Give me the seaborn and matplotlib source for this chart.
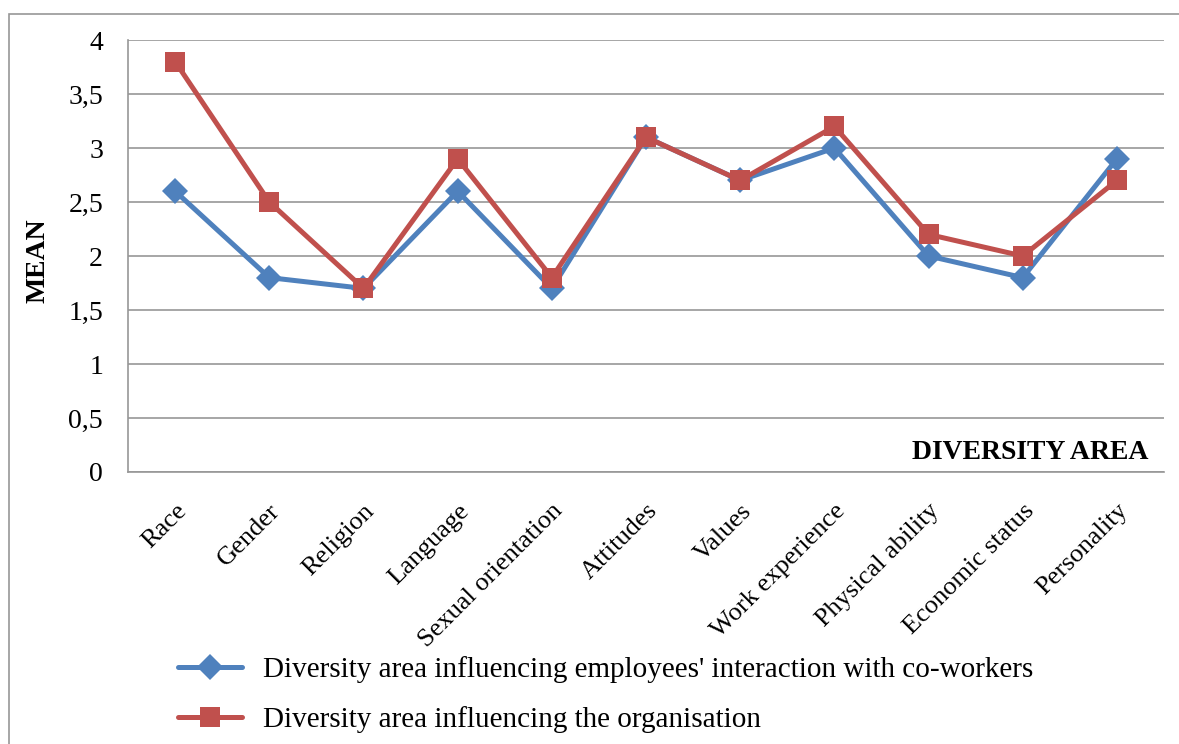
import matplotlib
matplotlib.use("Agg")
import matplotlib.pyplot as plt
import matplotlib.patches as patches
from matplotlib.ticker import MultipleLocator, FixedLocator
import seaborn as sns
import pandas as pd

areas = ["Race", "Gender", "Religion", "Language", "Sexual orientation", "Attitudes",
         "Values", "Work experience", "Physical ability", "Economic status", "Personality"]
coworkers = [2.6, 1.8, 1.7, 2.6, 1.7, 3.1, 2.7, 3.0, 2.0, 1.8, 2.9]
organisation = [3.8, 2.5, 1.7, 2.9, 1.8, 3.1, 2.7, 3.2, 2.2, 2.0, 2.7]
series_names = ["Diversity area influencing employees' interaction with co-workers",
                "Diversity area influencing the organisation"]

sns.set_style("white")
plt.rcParams["font.family"] = ["Liberation Serif", "DejaVu Serif"]
plt.rcParams["text.color"] = "black"
plt.rcParams["xtick.color"] = "black"
plt.rcParams["ytick.color"] = "black"

grid_gray = "#979797"

fig = plt.figure(figsize=(11.79, 7.44), dpi=100)
ax = fig.add_axes([0.1086, 0.3656, 0.8787, 0.5806])

df1 = pd.DataFrame({"area": areas, "mean": coworkers})
df2 = pd.DataFrame({"area": areas, "mean": organisation})
sns.lineplot(data=df1, x="area", y="mean", ax=ax, color="#4F81BD", linewidth=3.6,
             marker="D", markersize=13, markeredgewidth=0, sort=False, label=series_names[0])
sns.lineplot(data=df2, x="area", y="mean", ax=ax, color="#C0504D", linewidth=3.6,
             marker="s", markersize=14.5, markeredgewidth=0, sort=False, label=series_names[1])

ax.set_xlim(-0.5, len(areas) - 0.5)
ax.set_ylim(0, 4)
ax.yaxis.set_major_locator(MultipleLocator(0.5))
ax.set_yticklabels([f"{v:g}".replace(".", ",") for v in ax.get_yticks()], fontsize=20)
ax.yaxis.grid(True, color=grid_gray, linewidth=1.2)
ax.set_axisbelow(True)

for s in ["top", "right"]:
    ax.spines[s].set_visible(False)
for s in ["left", "bottom"]:
    ax.spines[s].set_color(grid_gray)
    ax.spines[s].set_linewidth(1.2)

ax.tick_params(axis="y", length=8, color=grid_gray, labelcolor="black", width=1.2, pad=10)
ax.xaxis.set_minor_locator(FixedLocator([i - 0.5 for i in range(len(areas) + 1)]))
ax.tick_params(axis="x", which="minor", length=8, color=grid_gray, width=1.2)
ax.tick_params(axis="x", which="major", length=0, pad=20, labelcolor="black")
ax.set_xticks(range(len(areas)))
ax.set_xticklabels(areas, rotation=45, ha="right", rotation_mode="anchor", fontsize=19)
ax.set_xlabel("")
ax.set_ylabel("")

ax.text(0.985, 0.046, "DIVERSITY AREA", transform=ax.transAxes, ha="right", va="center",
        fontsize=20, fontweight="bold", color="black")
fig.text(0.032, 0.65, "MEAN", rotation=90, ha="center", va="center",
         fontsize=20, fontweight="bold", color="black")

ax.get_legend().remove()
handles, labels = ax.get_legend_handles_labels()
leg = fig.legend(handles, labels, loc="upper left", bbox_to_anchor=(0.151, 0.118), frameon=False,
                 fontsize=21, handlelength=2.2, handletextpad=0.7, labelspacing=0.8,
                 borderaxespad=0, borderpad=0)
for t in leg.get_texts():
    t.set_color("black")

fig.patches.append(patches.Rectangle((9 / 1179, -0.05), 1.1, 1.05 - 14 / 744,
                                     transform=fig.transFigure, fill=False,
                                     edgecolor=grid_gray, linewidth=1.2))

fig.savefig("out.png", dpi=100)
